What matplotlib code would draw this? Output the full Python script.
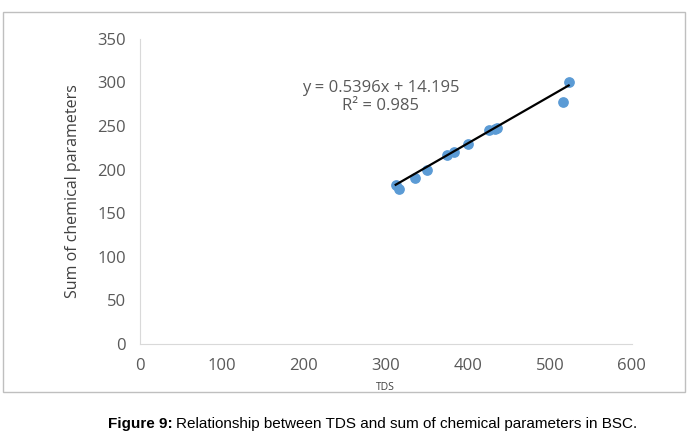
import matplotlib
matplotlib.use("Agg")
import matplotlib.pyplot as plt
import numpy as np
from matplotlib.patches import Rectangle

tds = [312, 316, 336, 350, 374, 383, 400, 426, 433, 435, 516, 523]
chem = [182, 178, 190, 199, 217, 220, 229, 245, 247, 248, 278, 300]
slope, intercept = 0.5396, 14.195

plt.rcParams['font.family'] = ['Open Sans', 'DejaVu Sans']
fig = plt.figure(figsize=(6.89, 4.45), dpi=100)
fig.patches.append(Rectangle((0.004, 0.118), 0.99, 0.855, transform=fig.transFigure,
                             fill=False, ec='#bfbfbf', lw=1))
ax = fig.add_axes([0.203, 0.227, 0.714, 0.686])
ax.scatter(tds, chem, s=45, color='#5b9bd5', zorder=3)
xs = np.array([min(tds), max(tds)])
ax.plot(xs, slope * xs + intercept, color='black', lw=1.6, zorder=4)
ax.set_xlim(0, 600)
ax.set_ylim(0, 350)
ax.set_xticks(range(0, 601, 100))
ax.set_yticks(range(0, 351, 50))
for s in ['top', 'right']:
    ax.spines[s].set_visible(False)
ax.spines['left'].set_color('#d9d9d9')
ax.spines['bottom'].set_color('#d9d9d9')
ax.tick_params(length=0, labelsize=12, colors='#595959', pad=10)
ax.set_xlabel('TDS', fontsize=7.5, color='#404040', labelpad=6)
ax.set_ylabel('Sum of chemical parameters', fontsize=11.5, color='#404040', labelpad=12)
ax.text(0.49, 0.765, 'y = 0.5396x + 14.195\nR² = 0.985', transform=ax.transAxes,
        ha='center', fontsize=12, color='#595959', linespacing=1.2)
fig.text(0.157, 0.047, 'Figure 9:', fontsize=11, fontweight='bold', ha='left', va='center',
         family='Liberation Sans')
fig.text(0.255, 0.047, 'Relationship between TDS and sum of chemical parameters in BSC.',
         fontsize=11, ha='left', va='center', family='Liberation Sans')
fig.savefig('out.png', dpi=100)
